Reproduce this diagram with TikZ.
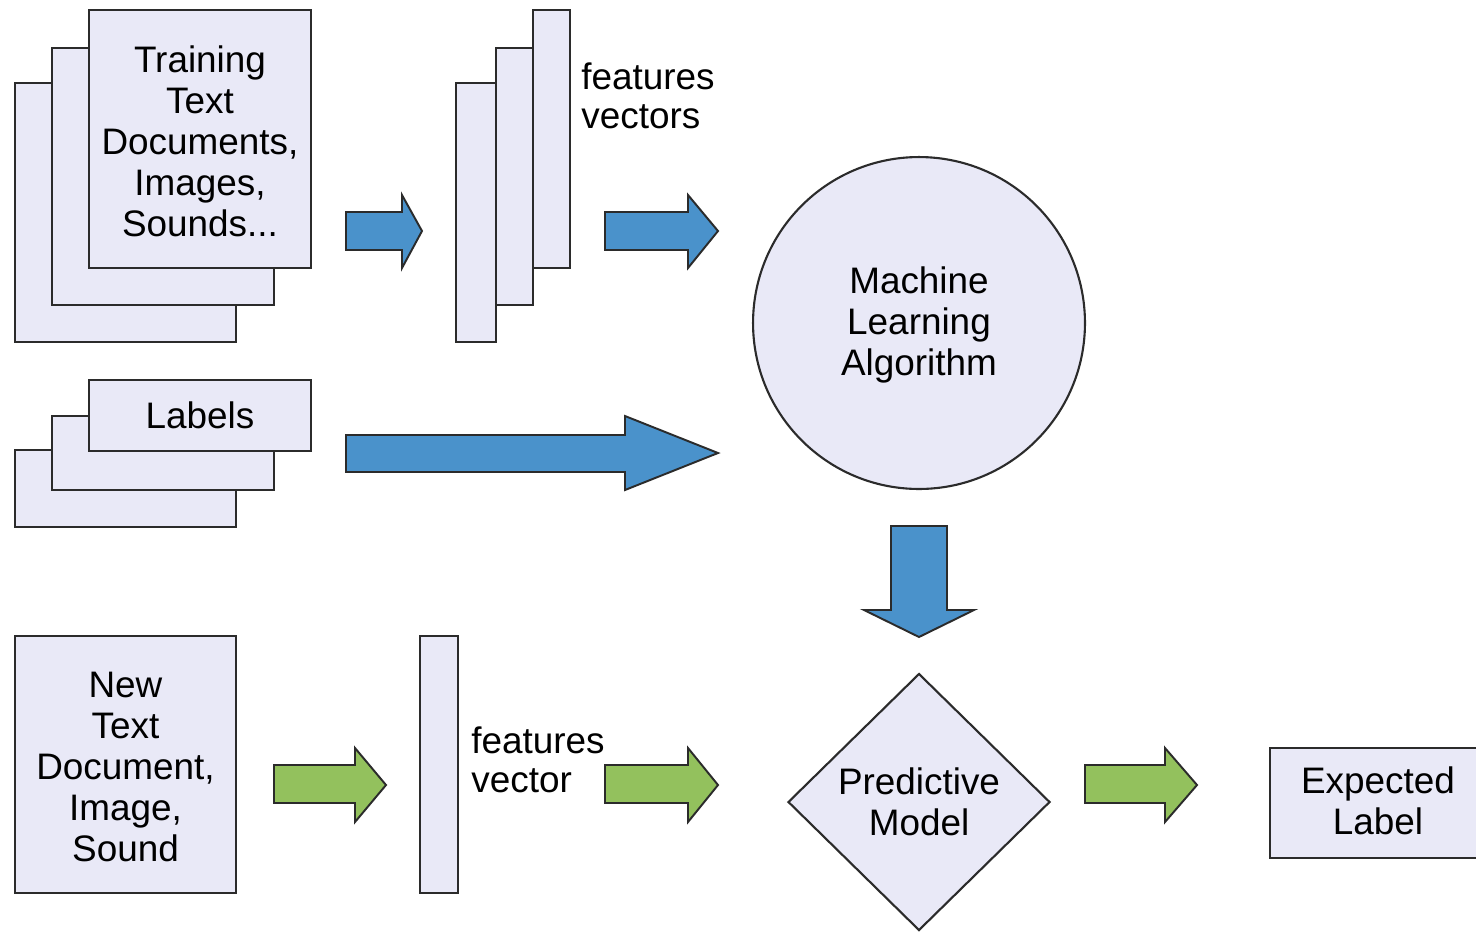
\documentclass[tikz,border=0pt]{standalone}
\usepackage{fontspec}
\setmainfont{Liberation Sans}
\usetikzlibrary{positioning,fit,shapes.geometric}
\definecolor{boxfill}{HTML}{E9E9F7}
\definecolor{edge}{HTML}{2B2B2B}
\definecolor{bluearr}{HTML}{4A92CB}
\definecolor{greenarr}{HTML}{93C15D}
\tikzset{
  box/.style={draw=edge, fill=boxfill, line width=1.2pt, inner sep=0pt},
  ctext/.style={align=center, inner sep=0pt, font=\fontsize{21}{23.3}\selectfont},
  txt/.style={align=left, inner sep=0pt, font=\fontsize{21}{22.5}\selectfont},
  barrow/.style={draw=edge, fill=bluearr, line width=1.1pt, line join=miter},
  garrow/.style={draw=edge, fill=greenarr, line width=1.1pt, line join=miter}
}
\begin{document}
\begin{tikzpicture}[x=0.02cm, y=-0.02cm]
\useasboundingbox (0,0) rectangle (1476,931);
\fill[white] (0,0) rectangle (1476,931);
% training documents stack
\node[box, fit={(15,83) (236,342)}] (tr3) {};
\node[box, fit={(52,48) (274,305)}] (tr2) {};
\node[box, fit={(89,10) (311,268)}] (tr1) {};
\node[ctext] (tr1t) at (200,141) {Training\\Text\\Documents,\\Images,\\Sounds...};
% features vectors stack
\node[box, fit={(456,83) (496,342)}] (fv3) {};
\node[box, fit={(496,48) (533,305)}] (fv2) {};
\node[box, fit={(533,10) (570,268)}] (fv1) {};
\node[txt, anchor=west] (fvl) at (581,96) {features\\vectors};
% labels stack
\node[box, fit={(15,450) (236,527)}] (lb3) {};
\node[box, fit={(52,416) (274,490)}] (lb2) {};
\node[box, fit={(89,380) (311,451)}] (lb1) {};
\node[ctext] (lb1t) at (200,415) {Labels};
% machine learning algorithm
\node[box, circle, minimum size=6.64cm] (mla) at (919,323) {};
\node[ctext] (mlat) at (919,325) {Machine\\Learning\\Algorithm};
% predictive model
\node[box, diamond, minimum width=5.24cm, minimum height=5.14cm] (pm) at (919,802) {};
\node[ctext] (pmt) at (919,802) {Predictive\\Model};
% new document
\node[box, fit={(15,636) (236,893)}] (nd) {};
\node[ctext] (ndt) at (125.5,767) {New\\Text\\Document,\\Image,\\Sound};
\node[box, fit={(420,636) (458,893)}] (nv) {};
\node[txt, anchor=west] (nvl) at (471,760) {features\\vector};
% expected label
\node[box, fit={(1270,748) (1490,858)}] (el) {};
\node[ctext] (elt) at (1378,801) {Expected\\Label};
% blue arrows
\filldraw[barrow] (346,212) -- (402,212) -- (402,195) -- (422,231) -- (402,268) -- (402,250) -- (346,250) -- cycle;
\filldraw[barrow] (605,212) -- (688,212) -- (688,195) -- (718,231) -- (688,268) -- (688,250) -- (605,250) -- cycle;
\filldraw[barrow] (346,435) -- (625,435) -- (625,416) -- (718,453) -- (625,490) -- (625,472) -- (346,472) -- cycle;
\filldraw[barrow] (891,526) -- (947,526) -- (947,610) -- (974,610) -- (919,637) -- (864,610) -- (891,610) -- cycle;
% green arrows
\filldraw[garrow] (274,765) -- (355,765) -- (355,748) -- (386,785) -- (355,822) -- (355,803) -- (274,803) -- cycle;
\filldraw[garrow] (605,765) -- (688,765) -- (688,748) -- (718,785) -- (688,822) -- (688,803) -- (605,803) -- cycle;
\filldraw[garrow] (1085,765) -- (1165,765) -- (1165,748) -- (1197,785) -- (1165,822) -- (1165,803) -- (1085,803) -- cycle;
\end{tikzpicture}
\end{document}
